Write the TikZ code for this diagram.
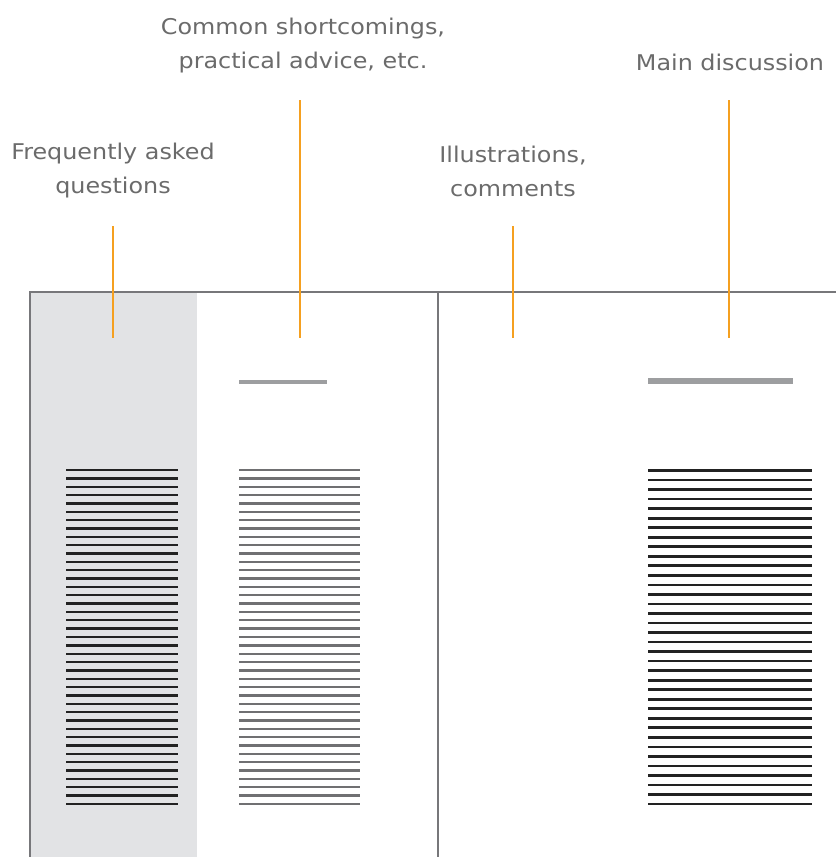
\documentclass[tikz,border=0pt]{standalone}
\usepackage{fontspec}
\setmainfont[FakeStretch=1.1]{DejaVu Sans}
\definecolor{leadcol}{HTML}{F5A020}
\definecolor{framecol}{HTML}{77777A}
\definecolor{shadecol}{HTML}{E2E3E5}
\definecolor{textcol}{HTML}{6B6B6B}
\definecolor{midcol}{HTML}{707072}
\definecolor{barcol}{HTML}{9D9EA0}
\definecolor{darkcol}{HTML}{222222}
\begin{document}
\begin{tikzpicture}[x=0.03cm,y=-0.03cm,
    tag/.style={text=textcol,font=\fontsize{18.5}{29}\selectfont,align=center,inner sep=0pt},
    leader/.style={draw=leadcol,line width=1.6pt},
    frame/.style={draw=framecol,line width=1.7pt},
    faqline/.style={draw=darkcol,line width=2pt},
    adviceline/.style={draw=midcol,line width=2pt},
    mainline/.style={draw=darkcol,line width=2.3pt}]
  \useasboundingbox (0,0) rectangle (836,857);
  \fill[shadecol] (30,292) rectangle (197,857);
  \draw[frame] (30,857) -- (30,292) -- (836,292);
  \draw[frame] (438,292) -- (438,857);
  \node[tag] (faq) at (113,171) {Frequently asked\\questions};
  \node[tag] (advice) at (303,46) {Common shortcomings,\\practical advice, etc.};
  \node[tag] (notes) at (513,171) {Illustrations,\\comments};
  \node[tag,anchor=base] (main) at (730,70) {Main discussion};
  \coordinate (faqtop) at (113,226);
  \coordinate (faqtip) at (113,338);
  \coordinate (advicetop) at (300,100);
  \coordinate (advicetip) at (300,338);
  \coordinate (notestop) at (513,226);
  \coordinate (notestip) at (513,338);
  \coordinate (maintop) at (729,100);
  \coordinate (maintip) at (729,338);
  \draw[leader] (faqtop) -- (faqtip);
  \draw[leader] (advicetop) -- (advicetip);
  \draw[leader] (notestop) -- (notestip);
  \draw[leader] (maintop) -- (maintip);
  \draw[draw=barcol,line width=3.6pt] (239,382) -- (327,382);
  \draw[draw=barcol,line width=5.2pt] (648,381) -- (793,381);
  \foreach \i in {0,...,40}
    \draw[faqline] (66,470+\i*8.35) -- (178,470+\i*8.35);
  \foreach \i in {0,...,40}
    \draw[adviceline] (239,470+\i*8.35) -- (360,470+\i*8.35);
  \foreach \i in {0,...,35}
    \draw[mainline] (648,470.5+\i*9.53) -- (812,470.5+\i*9.53);
\end{tikzpicture}
\end{document}
